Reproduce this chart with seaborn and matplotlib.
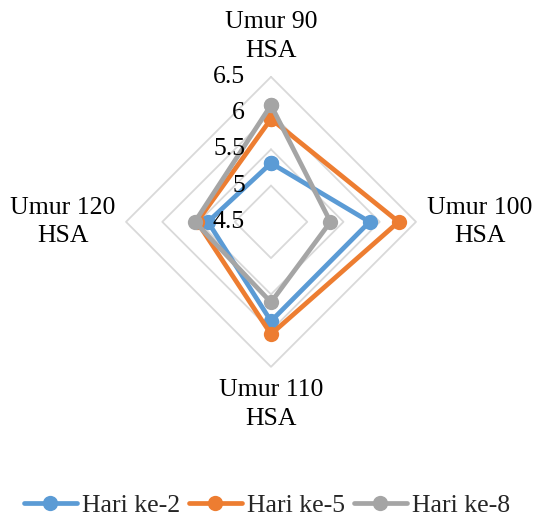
import numpy as np
import pandas as pd
import matplotlib
matplotlib.use("Agg")
import matplotlib.pyplot as plt
import matplotlib.transforms as mtransforms
import seaborn as sns

# Categories (clockwise from the top) and series values
categories = ["Umur 90\nHSA", "Umur 100\nHSA", "Umur 110\nHSA", "Umur 120\nHSA"]
series_names = ["Hari ke-2", "Hari ke-5", "Hari ke-8"]
hari_2 = [5.31, 5.86, 5.87, 5.37]
hari_5 = [5.92, 6.26, 6.05, 5.52]
hari_8 = [6.11, 5.32, 5.61, 5.55]
radial_ticks = [4.5, 5, 5.5, 6, 6.5]
radial_labels = ["4.5", "5", "5.5", "6", "6.5"]

colors = ["#5B9BD5", "#ED7D31", "#A5A5A5"]

sns.set_theme(style="white")
plt.rcParams["font.family"] = ["Liberation Serif", "DejaVu Serif"]
FS = 18.5

n = len(categories)
theta = np.linspace(0, 2 * np.pi, n, endpoint=False)
theta_closed = np.append(theta, 2 * np.pi)

rows = []
for name, vals in zip(series_names, [hari_2, hari_5, hari_8]):
    closed = list(vals) + [vals[0]]
    for t, v in zip(theta_closed, closed):
        rows.append({"theta": t, "value": v, "series": name})
df = pd.DataFrame(rows)

fig = plt.figure(figsize=(5.34, 5.22), dpi=100)
ax = fig.add_axes([0.236, 0.297, 0.543, 0.556], projection="polar")
ax.set_theta_zero_location("N")
ax.set_theta_direction(-1)
ax.set_ylim(radial_ticks[0], radial_ticks[-1])
ax.grid(False)
ax.spines["polar"].set_visible(False)
ax.set_xticks([])
ax.set_yticks([])
ax.set_facecolor("none")

# Diamond-shaped gridlines
for level in radial_ticks[1:]:
    ax.plot(theta_closed, [level] * len(theta_closed), color="#D9D9D9",
            lw=1.3, zorder=1, clip_on=False)

sns.lineplot(data=df, x="theta", y="value", hue="series", sort=False,
             estimator=None, palette=colors, marker="o", markersize=11,
             markeredgewidth=0, linewidth=3.4, ax=ax, legend=False, zorder=3)
for line in ax.lines:
    line.set_clip_on(False)
ax.set_xlabel("")
ax.set_ylabel("")

# Radial value labels to the left of the top axis
offset = mtransforms.offset_copy(ax.transData, fig=fig, x=-26, y=0, units="dots")
for v, lab in zip(radial_ticks, radial_labels):
    ax.text(0, v, lab, transform=offset, ha="right", va="center",
            fontsize=FS, color="#000000", zorder=5)

# Category labels
label_r = [7.06, 7.38, 7.02, 7.37]
for t, lab, r in zip(theta, categories, label_r):
    ax.text(t, r, lab, ha="center", va="center", fontsize=FS,
            color="#000000", linespacing=1.38, clip_on=False)

handles = [plt.Line2D([], [], color=c, lw=3.4, marker="o", markersize=11,
                      markeredgewidth=0) for c in colors]
fig.legend(handles, series_names, loc="lower center", ncol=3,
           bbox_to_anchor=(0.5, 0.0), frameon=False, fontsize=FS,
           borderaxespad=0, borderpad=0.2,
           handlelength=2.05, handletextpad=0.2, columnspacing=0.35)

fig.savefig("out.png", dpi=100, facecolor="white")
